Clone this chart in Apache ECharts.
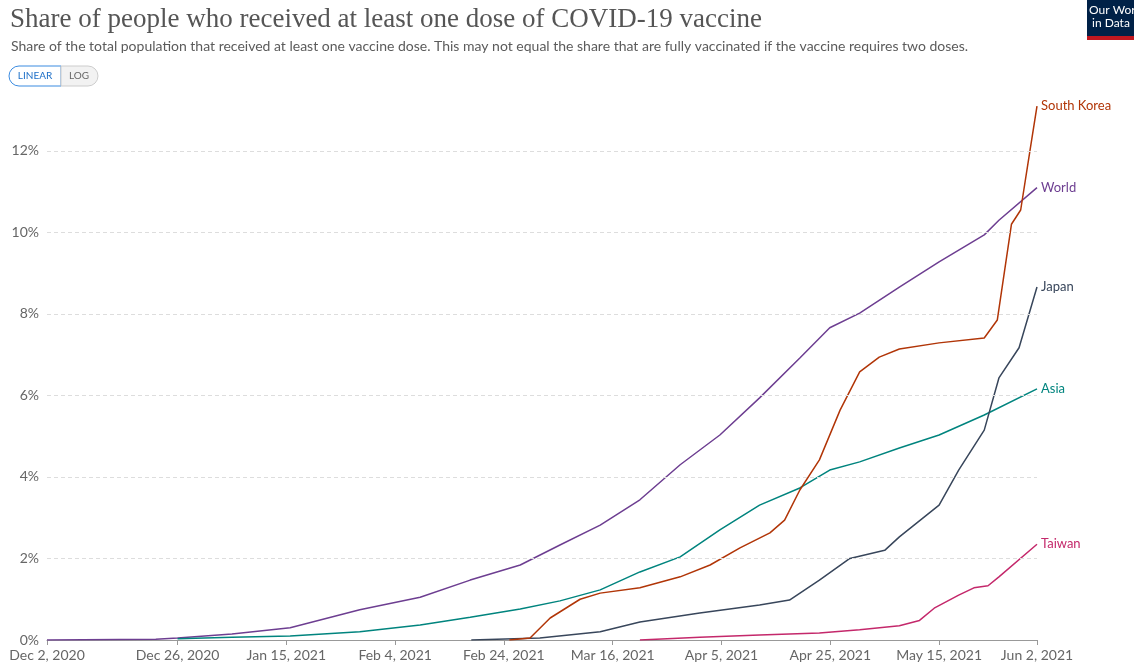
<!DOCTYPE html>
<html><head><meta charset="utf-8">
<script src="https://cdn.jsdelivr.net/npm/echarts@6/dist/echarts.min.js"></script>
<style>body{margin:0;background:#fff}#c{width:1134px;height:669px}</style></head>
<body><div id="c"></div>
<script>
const tickDays=[0,24,44,64,84,104,124,144,164,182];
const tickLabels=['Dec 2, 2020','Dec 26, 2020','Jan 15, 2021','Feb 4, 2021','Feb 24, 2021','Mar 16, 2021','Apr 5, 2021','Apr 25, 2021','May 15, 2021','Jun 2, 2021'];
const worldData=[[0,0],[20,0.02],[24,0.05],[34,0.15],[44.7,0.3],[57.5,0.74],[68.6,1.05],[77.8,1.47],[87,1.84],[94.3,2.33],[101.7,2.82],[109,3.44],[116.4,4.3],[123.7,5.03],[131,5.94],[138.4,6.92],[143.9,7.66],[149.4,8.02],[156.7,8.66],[164,9.28],[172.3,9.94],[175,10.3],[182,11.1]];
const koreaData=[[85,0],[88.8,0.05],[92.5,0.54],[98,1.0],[101.7,1.15],[109,1.28],[116.4,1.55],[121.9,1.84],[127.4,2.26],[132.9,2.63],[135.6,2.94],[138.4,3.68],[142,4.42],[145.8,5.64],[149.4,6.58],[153,6.94],[156.7,7.14],[164,7.29],[172.3,7.41],[174.7,7.85],[177.3,10.2],[179,10.55],[180.7,12.0],[182,13.1]];
const japanData=[[78,0],[90.6,0.05],[101.7,0.2],[109,0.44],[120,0.66],[131,0.86],[136.5,0.98],[142,1.47],[147.6,2.0],[154,2.2],[156.7,2.53],[164,3.31],[167.6,4.17],[172.3,5.15],[175,6.43],[178.7,7.17],[182,8.66]];
const asiaData=[[24,0.03],[34,0.07],[44.7,0.1],[57.5,0.2],[68.6,0.37],[77.8,0.56],[87,0.76],[94.3,0.96],[101.7,1.23],[109,1.67],[116.4,2.04],[123.7,2.7],[131,3.31],[138.4,3.73],[143.9,4.17],[149.4,4.37],[156.7,4.71],[164,5.03],[172.3,5.52],[182,6.16]];
const taiwanData=[[109,0],[120,0.07],[131,0.12],[142,0.17],[149.4,0.25],[156.7,0.35],[160.4,0.48],[163.1,0.78],[167.6,1.1],[170.4,1.28],[173,1.33],[175,1.55],[182,2.35]];
const yTicks=[0,2,4,6,8,10,12];
function ser(name,data,color){return {name,type:'line',z:3,data,showSymbol:false,lineStyle:{width:1.5,color},itemStyle:{color},
 endLabel:{show:true,formatter:name,color,fontSize:13,fontFamily:'Lato',distance:4}};}
const series=[{type:'line',z:1,data:[],silent:true,markLine:{silent:true,symbol:'none',label:{show:false},lineStyle:{color:'#ddd',type:[4,3],width:1},data:yTicks.slice(1).map(v=>({yAxis:v}))}},
 ser('World',worldData,'#6d3e91'),ser('Asia',asiaData,'#00847e'),ser('Japan',japanData,'#38465b'),ser('Taiwan',taiwanData,'#c4286b'),ser('South Korea',koreaData,'#b13507')];
const chart=echarts.init(document.getElementById('c'));
chart.setOption({
 animation:false,
 title:[{text:'Share of people who received at least one dose of COVID-19 vaccine',left:5,top:1,textStyle:{fontFamily:'Liberation Serif',fontWeight:'normal',fontSize:27,color:'#555'}},
 {text:'Share of the total population that received at least one vaccine dose. This may not equal the share that are fully vaccinated if the vaccine requires two doses.',left:6,top:34,textStyle:{fontFamily:'Lato',fontWeight:'normal',fontSize:14,color:'#5b5b5b'}}],
 graphic:[
  {type:'rect',shape:{x:1087,y:0,width:50,height:36},style:{fill:'#002147'}},
  {type:'rect',shape:{x:1087,y:36,width:50,height:4},style:{fill:'#c0171f'}},
  {type:'text',style:{x:1089,y:4,text:'Our World\n in Data',fill:'#fff',font:'12px Lato',lineHeight:13}},
  {type:'rect',shape:{x:9,y:66,width:52,height:20,r:[10,0,0,10]},style:{fill:'#fff',stroke:'#3b8be0',lineWidth:1}},
  {type:'rect',shape:{x:61,y:66,width:37,height:20,r:[0,10,10,0]},style:{fill:'#f2f2f2',stroke:'#ccc',lineWidth:1}},
  {type:'text',style:{x:35,y:76,text:'LINEAR',fill:'#1d6fc7',font:'10px Lato',align:'center',verticalAlign:'middle'}},
  {type:'text',style:{x:79,y:76,text:'LOG',fill:'#666',font:'10px Lato',align:'center',verticalAlign:'middle'}}
 ],
 grid:{left:47,right:97,top:102,bottom:29},
 xAxis:{type:'value',min:0,max:182,splitLine:{show:false},
  axisLine:{lineStyle:{color:'#999'}},
  axisTick:{customValues:tickDays,length:5,lineStyle:{color:'#999'}},
  axisLabel:{customValues:tickDays,formatter:v=>tickLabels[tickDays.indexOf(v)]||'',color:'#666',fontSize:14,fontFamily:'Lato',margin:8}},
 yAxis:{type:'value',min:0,max:13.2,interval:2,axisLine:{show:false},axisTick:{show:false},
  axisLabel:{customValues:yTicks,formatter:v=>v+'%',color:'#666',fontSize:14,fontFamily:'Lato'},
  splitLine:{show:false}},
 series
});
</script></body></html>
